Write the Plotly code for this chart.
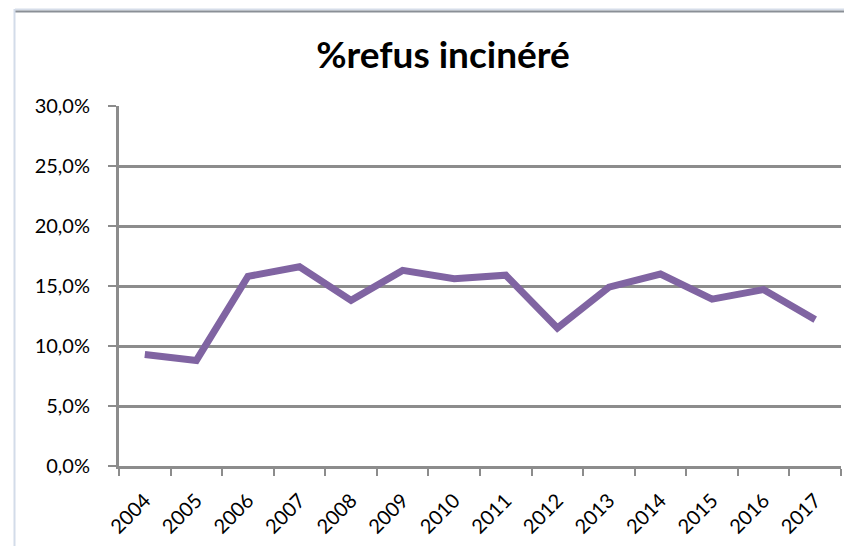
import plotly.graph_objects as go

years = ["2004", "2005", "2006", "2007", "2008", "2009", "2010",
         "2011", "2012", "2013", "2014", "2015", "2016", "2017"]
refus_incinere = [0.093, 0.088, 0.158, 0.166, 0.138, 0.163, 0.156,
                  0.159, 0.115, 0.149, 0.160, 0.139, 0.147, 0.122]
y_ticks = [0, 0.05, 0.10, 0.15, 0.20, 0.25, 0.30]
y_tick_labels = ["0,0%", "5,0%", "10,0%", "15,0%", "20,0%", "25,0%", "30,0%"]

FONT = "Lato, Open Sans, sans-serif"
GRID = "#8c8c8c"

# page is offset by the 8px body margin: compensate in the margins
OFF = 8
L, R, T, B = 119 - OFF, 852 - 841 + OFF, 106 - OFF, 546 - 466 + OFF
PW = 852 - L - R
PH = 546 - T - B

fig = go.Figure()
fig.add_trace(go.Scatter(
    x=years, y=refus_incinere, mode="lines",
    line=dict(color="#8064A2", width=7),
    hoverinfo="x+y",
))

fig.update_layout(
    width=852, height=546,
    paper_bgcolor="white", plot_bgcolor="white",
    margin=dict(l=L, r=R, t=T, b=B),
    showlegend=False,
    title=dict(text="<b>%refus incinéré</b>", x=(443 - OFF) / 852, xref="container",
               xanchor="center", y=1 - (55 - OFF) / 546, yref="container", yanchor="middle",
               font=dict(family=FONT, size=37, color="black")),
    font=dict(family=FONT, size=15, color="black"),
)

fig.update_xaxes(
    type="category", tickangle=-45,
    showline=True, linecolor=GRID, linewidth=3,
    ticks="outside", ticklen=7, tickwidth=2, tickcolor=GRID,
    tickson="boundaries", showgrid=False,
    tickfont=dict(family=FONT, size=20, color="black"),
    ticklabelstandoff=12,
    range=[-0.5, len(years) - 0.5],
)
fig.update_yaxes(
    range=[0, 0.30], tickvals=y_ticks, ticktext=y_tick_labels,
    showline=True, linecolor=GRID, linewidth=3,
    ticks="outside", ticklen=8, tickwidth=2, tickcolor=GRID,
    showgrid=True, gridcolor=GRID, gridwidth=2.5,
    zeroline=False,
    tickfont=dict(family=FONT, size=20, color="black"),
    ticklabelstandoff=14,
)

# outer chart border fragments (as in the reference screenshot)
def py(y_page):
    return 1 + (106 - y_page) / PH

def px(x_page):
    return (x_page - 119) / PW

fig.add_shape(type="line", xref="paper", yref="paper",
              x0=px(15), x1=px(860), y0=py(9.5), y1=py(9.5),
              line=dict(color="#d6dde9", width=2))
fig.add_shape(type="line", xref="paper", yref="paper",
              x0=px(15), x1=px(860), y0=py(11.5), y1=py(11.5),
              line=dict(color="#8a8f96", width=2))
fig.add_shape(type="line", xref="paper", yref="paper",
              x0=px(14.5), x1=px(14.5), y0=py(9), y1=py(560),
              line=dict(color="#d3dce9", width=2))

fig.write_html("out.html")
